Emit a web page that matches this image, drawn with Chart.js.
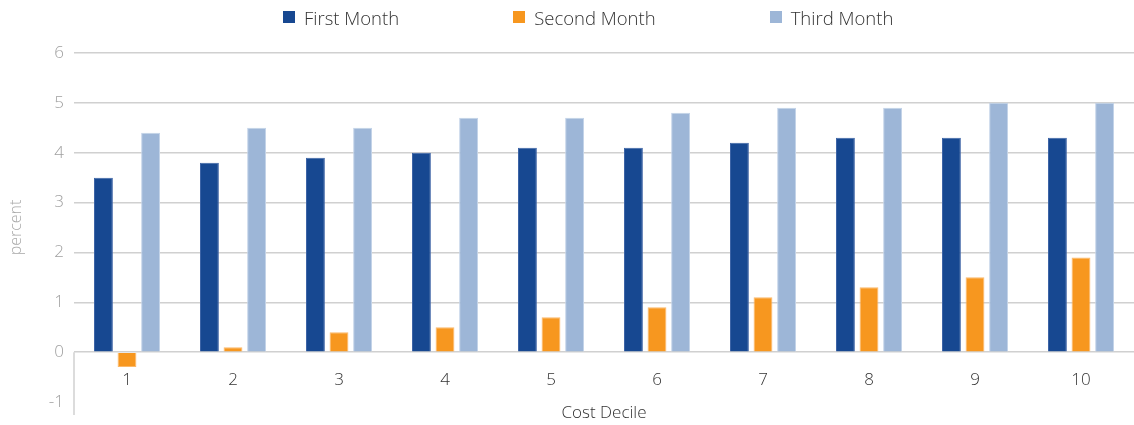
<!DOCTYPE html>
<html>
<head>
<meta charset="utf-8">
<script src="https://cdn.jsdelivr.net/npm/chart.js@4"></script>
<style>
  html, body { margin: 0; padding: 0; background: #fff; }
  #wrap { position: relative; width: 1134px; height: 425px; }
  #legend {
    position: absolute; top: 5px; left: 283px;
    display: flex; align-items: center; height: 24px;
    font-family: 'Open Sans', sans-serif; font-weight: 300; font-size: 18.5px; color: #333;
    white-space: nowrap;
  }
  #legend .item { display: flex; align-items: center; margin-right: 114px; }
  #legend .box { width: 12px; height: 12px; margin-right: 9px; }
</style>
</head>
<body>
<div id="wrap">
  <canvas id="decileChart"></canvas>
  <div id="legend"></div>
</div>
<script>
const deciles = ['1', '2', '3', '4', '5', '6', '7', '8', '9', '10'];
const firstMonth = [3.5, 3.8, 3.9, 4.0, 4.1, 4.1, 4.2, 4.3, 4.3, 4.3];
const secondMonth = [-0.3, 0.1, 0.4, 0.5, 0.7, 0.9, 1.1, 1.3, 1.5, 1.9];
const thirdMonth = [4.4, 4.5, 4.5, 4.7, 4.7, 4.8, 4.9, 4.9, 5.0, 5.0];
const yTicks = [-1, 0, 1, 2, 3, 4, 5, 6];

const FONT = "'Open Sans', Lato, sans-serif";

// short axis line running down from zero, like the original
const leftStub = {
  id: 'leftStub',
  afterDraw(chart) {
    const { ctx, chartArea, scales } = chart;
    const y0 = scales.y.getPixelForValue(0);
    ctx.save();
    ctx.strokeStyle = '#d0d0d0';
    ctx.lineWidth = 1.5;
    ctx.beginPath();
    ctx.moveTo(chartArea.left, y0);
    ctx.lineTo(chartArea.left, chartArea.bottom + 13);
    ctx.stroke();
    ctx.restore();
  }
};

// html legend built from the chart's own legend items
const htmlLegend = {
  id: 'htmlLegend',
  afterUpdate(chart) {
    const el = document.getElementById('legend');
    el.innerHTML = '';
    const items = chart.options.plugins.legend.labels.generateLabels(chart);
    items.forEach(item => {
      const row = document.createElement('div');
      row.className = 'item';
      const box = document.createElement('span');
      box.className = 'box';
      box.style.background = item.fillStyle;
      const txt = document.createElement('span');
      txt.textContent = item.text;
      row.appendChild(box);
      row.appendChild(txt);
      el.appendChild(row);
    });
  }
};

const ctx = document.getElementById('decileChart').getContext('2d');
new Chart(ctx, {
  type: 'bar',
  data: {
    labels: deciles,
    datasets: [
      { label: 'First Month', data: firstMonth, backgroundColor: '#174891', borderColor: '#3d64a6', borderWidth: 1 },
      { label: 'Second Month', data: secondMonth, backgroundColor: '#f7971f', borderColor: '#fbb869', borderWidth: 1 },
      { label: 'Third Month', data: thirdMonth, backgroundColor: '#9db6d7', borderColor: '#c3d3e8', borderWidth: 1 }
    ]
  },
  options: {
    responsive: true,
    maintainAspectRatio: false,
    animation: false,
    categoryPercentage: 0.667,
    barPercentage: 0.8,
    layout: { padding: { top: 53, bottom: 23, left: 0, right: 0 } },
    plugins: {
      legend: { display: false },
      tooltip: { enabled: false }
    },
    scales: {
      x: {
        position: { y: 0 },
        grid: { display: false },
        border: { display: false },
        ticks: {
          color: '#333',
          padding: 10,
          font: { family: FONT, size: 17, weight: 300 }
        },
        title: {
          display: true,
          text: 'Cost Decile',
          color: '#333',
          padding: { top: 2, bottom: 0 },
          font: { family: FONT, size: 17, weight: 300 }
        }
      },
      y: {
        min: -1,
        max: 6,
        afterBuildTicks: s => { s.ticks = yTicks.map(v => ({ value: v })); },
        afterFit: s => { s.width = 74; },
        border: { display: false },
        grid: {
          drawTicks: false,
          lineWidth: 1.5,
          color: c => (c.tick && c.tick.value === -1 ? 'rgba(0,0,0,0)' : '#d0d0d0')
        },
        ticks: {
          color: '#a0a0a0',
          padding: 10,
          font: { family: FONT, size: 17, weight: 300 }
        },
        title: {
          display: true,
          text: 'percent',
          color: '#a8a8a8',
          padding: { top: 7, bottom: 0 },
          font: { family: FONT, size: 16, weight: 300 }
        }
      }
    }
  },
  plugins: [leftStub, htmlLegend]
});
</script>
</body>
</html>
